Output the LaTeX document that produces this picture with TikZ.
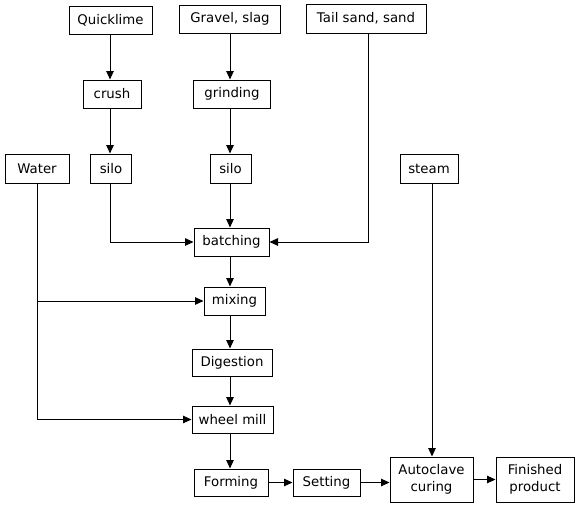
\documentclass[tikz,border=0pt]{standalone}
\usepackage{fontspec}
\setmainfont{DejaVu Sans}
\usetikzlibrary{arrows.meta}
\begin{document}
\begin{tikzpicture}[x=1pt,y=-1pt,
  box/.style={draw,line width=1pt,inner sep=0pt,font=\fontsize{13.3}{17}\selectfont,align=center},
  arr/.style={line width=1pt,-{Triangle[length=8.5pt,width=7.5pt]}},
  ln/.style={line width=1pt}]
\useasboundingbox (0,0) rectangle (579,509);
\node[box,minimum width=83pt,minimum height=28pt] (quick) at (110.5,20) {Quicklime};
\node[box,minimum width=101pt,minimum height=28pt] (gravel) at (230,19) {Gravel, slag};
\node[box,minimum width=120pt,minimum height=29pt] (tail) at (366,18.5) {Tail sand, sand};
\node[box,minimum width=58pt,minimum height=28pt] (crush) at (112,94) {crush};
\node[box,minimum width=77pt,minimum height=28pt] (grind) at (232,94) {grinding};
\node[box,minimum width=64pt,minimum height=29pt] (water) at (37,168.5) {Water};
\node[box,minimum width=41pt,minimum height=29pt] (silo1) at (111,168.5) {silo};
\node[box,minimum width=41pt,minimum height=29pt] (silo2) at (230.5,168.5) {silo};
\node[box,minimum width=58pt,minimum height=29pt] (steam) at (429,168.5) {steam};
\node[box,minimum width=75pt,minimum height=28pt] (batch) at (231.5,242) {batching};
\node[box,minimum width=61pt,minimum height=28pt] (mix) at (234.5,301) {mixing};
\node[box,minimum width=80pt,minimum height=27pt] (dig) at (232,362.5) {Digestion};
\node[box,minimum width=81pt,minimum height=27pt] (wheel) at (232.5,419.5) {wheel mill};
\node[box,minimum width=74pt,minimum height=27pt] (form) at (231,482.5) {Forming};
\node[box,minimum width=67pt,minimum height=27pt] (set) at (326.5,482.5) {Setting};
\node[box,minimum width=83pt,minimum height=45pt] (auto) at (431.5,479.5) {Autoclave\\curing};
\node[box,minimum width=78pt,minimum height=45pt] (fin) at (535,479.5) {Finished\\product};
\coordinate (colA) at (110,0);
\coordinate (colB) at (230,0);
\coordinate (colT) at (368,0);
\coordinate (colW) at (37,0);
\coordinate (colS) at (432,0);
\draw[arr] (quick.south -| colA) -- (crush.north -| colA);
\draw[arr] (crush.south -| colA) -- (silo1.north -| colA);
\draw[arr] (gravel.south -| colB) -- (grind.north -| colB);
\draw[arr] (grind.south -| colB) -- (silo2.north -| colB);
\draw[arr] (silo2.south -| colB) -- (batch.north -| colB);
\draw[arr] (silo1.south -| colA) |- (batch.west);
\draw[arr] (tail.south -| colT) |- (batch.east);
\draw[arr] (batch.south -| colB) -- (mix.north -| colB);
\draw[arr] (mix.south -| colB) -- (dig.north -| colB);
\draw[arr] (dig.south -| colB) -- (wheel.north -| colB);
\draw[arr] (wheel.south -| colB) -- (form.north -| colB);
\draw[arr] (water.south -| colW) |- (wheel.west);
\coordinate (wj) at (colW |- mix.west);
\draw[arr] (wj) -- (mix.west);
\draw[arr] (form.east) -- (set.west);
\draw[arr] (set.east) -- (set.east -| auto.west);
\draw[arr] (steam.south -| colS) -- (auto.north -| colS);
\draw[arr] (auto.east) -- (fin.west);
\end{tikzpicture}
\end{document}
